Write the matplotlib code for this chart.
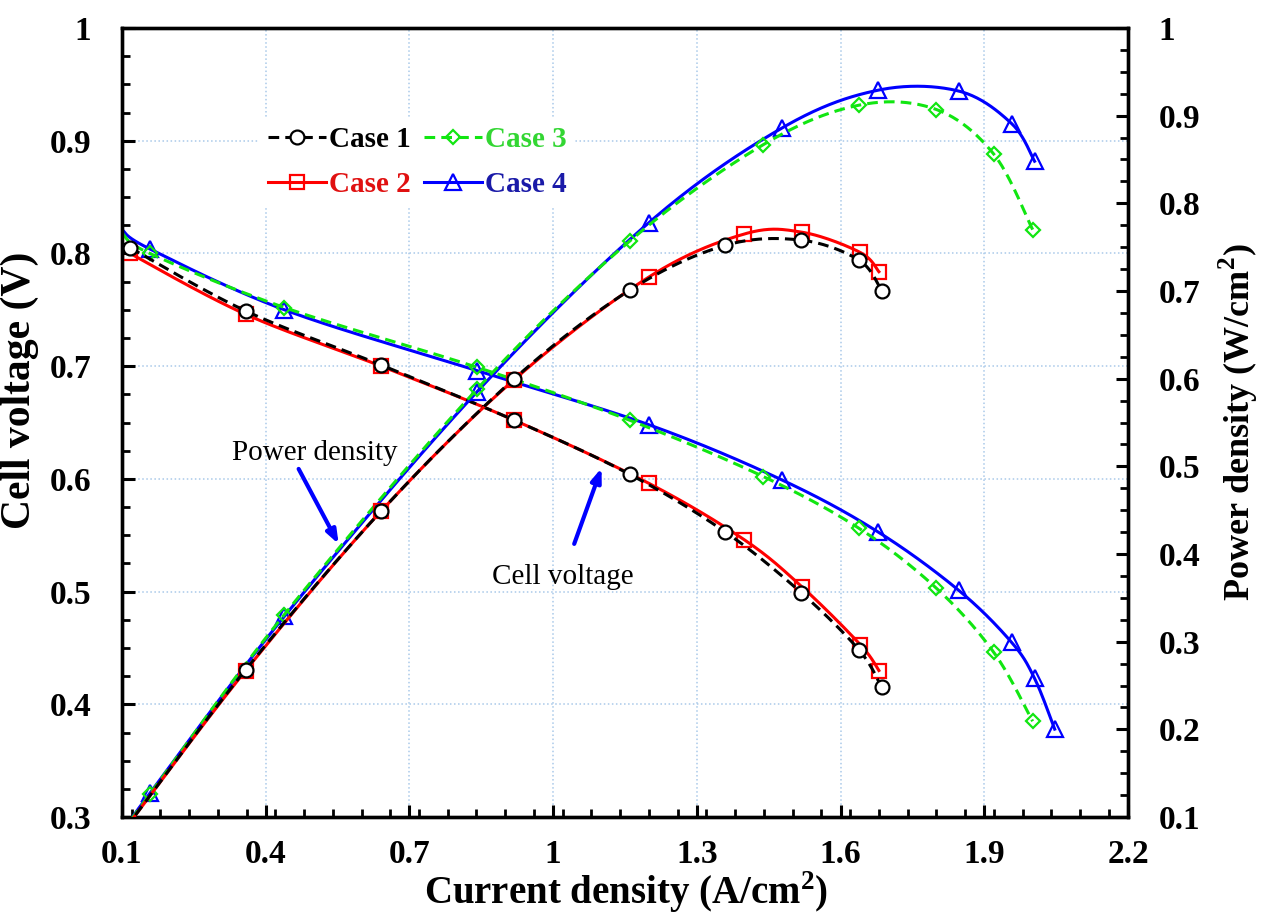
import numpy as np
import matplotlib
matplotlib.use("Agg")
import matplotlib.pyplot as plt
from matplotlib.ticker import MultipleLocator, FuncFormatter

plt.rcParams["font.family"] = ["Liberation Serif", "DejaVu Serif"]
plt.rcParams["mathtext.fontset"] = "custom"
plt.rcParams["mathtext.rm"] = "Liberation Serif"
plt.rcParams["mathtext.bf"] = "Liberation Serif:bold"

# --- data (A/cm2, V, W/cm2) ---
# the first point of each voltage/power line is where the curve meets the
# left axis edge; it carries no marker in the original
i_case1 = [0.100, 0.117, 0.358, 0.641, 0.919, 1.160, 1.359, 1.518, 1.639, 1.686]
v_case1 = [0.810, 0.805, 0.749, 0.701, 0.652, 0.604, 0.553, 0.499, 0.448, 0.415]
p_case1 = [0.081, 0.094, 0.268, 0.449, 0.600, 0.701, 0.752, 0.758, 0.735, 0.700]

i_case2 = [0.100, 0.117, 0.358, 0.641, 0.919, 1.200, 1.399, 1.520, 1.641, 1.680]
v_case2 = [0.806, 0.800, 0.746, 0.700, 0.652, 0.596, 0.546, 0.504, 0.453, 0.430]
p_case2 = [0.081, 0.094, 0.267, 0.449, 0.599, 0.716, 0.765, 0.767, 0.744, 0.722]

i_case3 = [0.100, 0.158, 0.439, 0.841, 1.160, 1.439, 1.639, 1.800, 1.920, 2.001]
v_case3 = [0.818, 0.800, 0.752, 0.699, 0.652, 0.602, 0.556, 0.503, 0.446, 0.385]
p_case3 = [0.082, 0.126, 0.331, 0.588, 0.757, 0.867, 0.912, 0.907, 0.856, 0.770]

i_case4 = [0.100, 0.158, 0.439, 0.841, 1.200, 1.478, 1.678, 1.847, 1.957, 2.005, 2.047]
v_case4 = [0.821, 0.804, 0.750, 0.696, 0.648, 0.599, 0.553, 0.501, 0.455, 0.423, 0.378]
# power for case 4 stops one point earlier than the voltage curve
p_case4 = [0.082, 0.127, 0.329, 0.585, 0.778, 0.886, 0.929, 0.928, 0.891, 0.848]

labels = ["Case 1", "Case 2", "Case 3", "Case 4"]
x_ticks = [0.1, 0.4, 0.7, 1.0, 1.3, 1.6, 1.9, 2.2]
p_min, p_max = 0.1, 1.0


def smooth(x, y, n=24):
    """Excel-like smoothed line: parametric Catmull-Rom through the points."""
    pts = np.column_stack([x, y])
    p = np.vstack([pts[0], pts, pts[-1]])
    t = np.linspace(0, 1, n, endpoint=False)[:, None]
    out = []
    for k in range(1, len(p) - 2):
        p0, p1, p2, p3 = p[k - 1], p[k], p[k + 1], p[k + 2]
        out.append(0.5 * (2 * p1 + (p2 - p0) * t
                          + (2 * p0 - 5 * p1 + 4 * p2 - p3) * t ** 2
                          + (3 * p1 - p0 - 3 * p2 + p3) * t ** 3))
    out.append(pts[-1:])
    s = np.vstack(out)
    return s[:, 0], s[:, 1]


styles = [
    dict(color="black", ls=(0, (3.5, 2)), marker="o", ms=10, mfc="white", mec="black"),
    dict(color="#ff0000", ls="-", marker="s", ms=10, mfc="none", mec="#ff0000"),
    dict(color="#11e611", ls=(0, (3.5, 2)), marker="D", ms=7.5, mfc="none", mec="#11e611"),
    dict(color="#0000ff", ls="-", marker="^", ms=11, mfc="none", mec="#0000ff"),
]
text_colors = ["black", "#e01010", "#33d633", "#1a1aa8"]
zorders = [5, 4, 3, 2]

series = [
    (i_case1, v_case1, i_case1, p_case1),
    (i_case2, v_case2, i_case2, p_case2),
    (i_case3, v_case3, i_case3, p_case3),
    (i_case4, v_case4, i_case4[:len(p_case4)], p_case4),
]

fig = plt.figure(figsize=(12.63, 9.17), dpi=100)
ax = fig.add_axes([0.0966, 0.109, 0.7965, 0.8605])
ax2 = ax.twinx()

handles = []
for (iv, v, ip, p), st, lab, z in zip(series, styles, labels, zorders):
    mk = dict(marker=st["marker"], ms=st["ms"], mfc=st["mfc"], mec=st["mec"], mew=1.6)
    # voltage
    sx, sy = smooth(iv, v)
    ax.plot(sx, sy, color=st["color"], ls=st["ls"], lw=2.2, zorder=z)
    ax.plot(iv[1:], v[1:], ls="none", zorder=z + 0.5, **mk)
    # power (markers below the axis floor are not shown)
    sx, sy = smooth(ip, p)
    ax2.plot(sx, sy, color=st["color"], ls=st["ls"], lw=2.2, zorder=z)
    ip_m = np.array(ip[1:])
    p_m = np.array(p[1:])
    keep = p_m >= p_min
    ax2.plot(ip_m[keep], p_m[keep], ls="none", zorder=z + 0.5, **mk)
    h, = ax.plot([], [], color=st["color"], ls=st["ls"], lw=2.2, **mk)
    handles.append(h)

ax.set_xlim(0.1, 2.2)
ax.set_ylim(0.3, 1.0)
ax2.set_ylim(p_min, p_max)

fmt = FuncFormatter(lambda v, pos: f"{v:g}")
ax.xaxis.set_minor_locator(MultipleLocator(0.06))
ax.set_xticks(x_ticks)
ax.xaxis.set_major_formatter(fmt)
ax.yaxis.set_major_locator(MultipleLocator(0.1))
ax.yaxis.set_minor_locator(MultipleLocator(0.025))
ax.yaxis.set_major_formatter(fmt)
ax2.yaxis.set_major_locator(MultipleLocator(0.1))
ax2.yaxis.set_minor_locator(MultipleLocator(0.025))
ax2.yaxis.set_major_formatter(fmt)

for a in (ax, ax2):
    a.tick_params(which="major", direction="in", length=9, width=2.2,
                  labelsize=24, pad=20)
    a.tick_params(which="minor", direction="in", length=6, width=2.0)
    for lbl in a.get_xticklabels() + a.get_yticklabels():
        lbl.set_fontweight("bold")
    for sp in a.spines.values():
        sp.set_linewidth(2.4)
ax.tick_params(axis="x", pad=16)
ax.tick_params(axis="y", pad=22)
ax2.tick_params(axis="y", pad=22)

ax.grid(True, which="major", color="#a9c9e9", ls=":", lw=1.1)
ax.set_axisbelow(True)

ax.set_xlabel(r"Current density (A/cm$^\mathbf{2}$)", fontsize=28, fontweight="bold")
ax.xaxis.set_label_coords(0.501, -0.066)
ax.set_ylabel("Cell voltage (V)", fontsize=30, fontweight="bold")
ax.yaxis.set_label_coords(-0.083, 0.541)
ax2.set_ylabel(r"Power density (W/cm$^\mathbf{2}$)", fontsize=26, fontweight="bold",
               labelpad=12)

# annotations
arrow = dict(arrowstyle="-|>,head_length=0.8,head_width=0.3", color="#0000ff", lw=3)
ax.annotate("", xy=(0.555, 0.540), xytext=(0.466, 0.611), arrowprops=arrow, zorder=6)
ax.text(0.503, 0.623, "Power density", fontsize=21, ha="center", va="center", zorder=6)
ax.annotate("", xy=(1.103, 0.612), xytext=(1.042, 0.540), arrowprops=arrow, zorder=6)
ax.text(1.02, 0.513, "Cell voltage", fontsize=21, ha="center", va="center", zorder=6)

leg = ax2.legend(handles, labels,
                 ncol=2, loc="upper left", bbox_to_anchor=(0.122, 0.905),
                 prop={"weight": "bold", "size": 21}, frameon=True,
                 handlelength=2.0, handletextpad=0.1, columnspacing=0.43,
                 labelspacing=0.62, borderpad=0.3)
leg.get_frame().set_facecolor("white")
leg.get_frame().set_edgecolor("none")
leg.get_frame().set_alpha(1)
for t, c in zip(leg.get_texts(), text_colors):
    t.set_color(c)

fig.savefig("out.png", dpi=100)
